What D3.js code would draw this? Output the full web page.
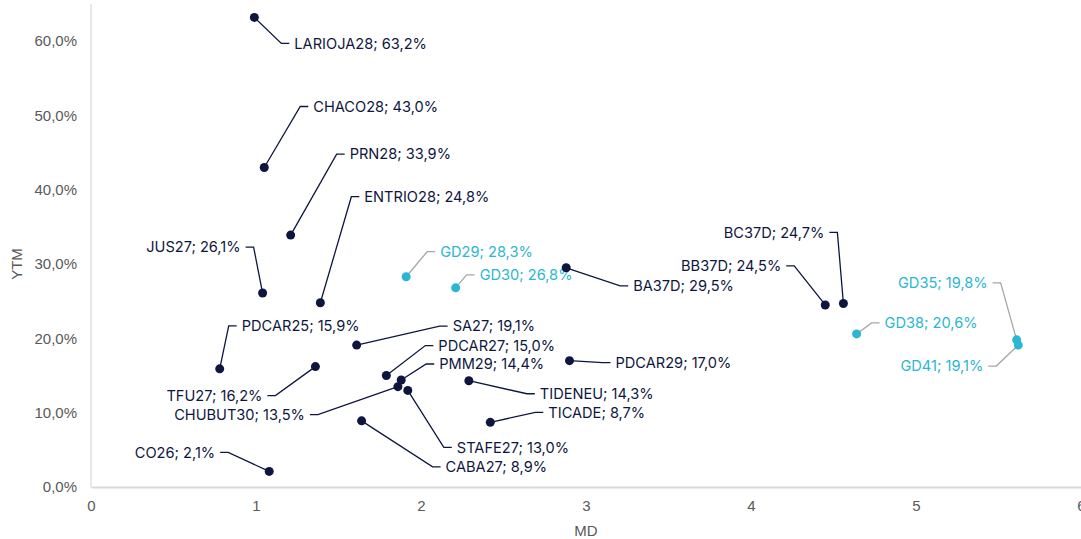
<!DOCTYPE html>
<html><head><meta charset="utf-8">
<script src="https://cdn.jsdelivr.net/npm/d3@7"></script>
<style>body{margin:0;background:#fff}svg{display:block}</style>
</head><body>
<svg id="c" width="1081" height="539"></svg>
<script>
const names = ["LARIOJA28","CHACO28","PRN28","ENTRIO28","JUS27","GD29","GD30","BA37D","BC37D","BB37D","GD38","GD35","GD41","PDCAR25","SA27","PDCAR27","PMM29","TFU27","CHUBUT30","STAFE27","CABA27","PDCAR29","TIDENEU","TICADE","CO26"];
const md  = [0.99,1.05,1.21,1.39,1.04,1.91,2.21,2.88,4.56,4.45,4.64,5.61,5.62,0.78,1.61,1.79,1.88,1.36,1.86,1.92,1.64,2.90,2.29,2.42,1.08];
const ytm = [63.2,43.0,33.9,24.8,26.1,28.3,26.8,29.5,24.7,24.5,20.6,19.8,19.1,15.9,19.1,15.0,14.4,16.2,13.5,13.0,8.9,17.0,14.3,8.7,2.1];
const isGD = [0,0,0,0,0,1,1,0,0,0,1,1,1,0,0,0,0,0,0,0,0,0,0,0,0];
const xTicks = [0,1,2,3,4,5,6];
const yTicks = [0,10,20,30,40,50,60];
// label layout: elbow offset from point (px) and side
const labelLayout = [
 [27,26,"r"],[36,-61,"r"],[46,-81,"r"],[31,-106,"r"],[-9,-46,"l"],[21,-25,"r"],[11,-13,"r"],[54,18,"r"],
 [-6,-71,"l"],[-31,-39,"l"],[15,-11,"r"],[-16,-57,"l"],[-22,21,"l"],[9,-43,"r"],[83,-19,"r"],[39,-30,"r"],
 [25,-16,"r"],[-40,29,"l"],[-80,28,"l"],[36,57,"r"],[71,46,"r"],[33,2,"r"],[58,13,"r"],[45,-10,"r"],[-41,-19,"l"]
];
const navy = "#0e1640", cyan = "#2bb6d3";
const svg = d3.select("#c");
const x = d3.scaleLinear().domain([0,6]).range([91,1081]);
const y = d3.scaleLinear().domain([0,65]).range([487,4]);
const tickFont = "'Liberation Sans Narrow','Liberation Sans',Arial,sans-serif";

// axes lines
svg.append("line").attr("x1",91).attr("x2",91).attr("y1",4).attr("y2",487).attr("stroke","#d0d0d0").attr("stroke-width",1);
const xa = svg.append("g").attr("transform","translate(0,487)")
  .call(d3.axisBottom(x).tickValues(xTicks).tickSize(0).tickPadding(13).tickFormat(d3.format("d")));
xa.select(".domain").attr("stroke","#d9d9d9").attr("stroke-width",2);
xa.selectAll("text").attr("font-family",tickFont).attr("font-size",15).attr("fill","#595959");
const ya = svg.append("g").attr("transform","translate(91,0)")
  .call(d3.axisLeft(y).tickValues(yTicks).tickSize(0).tickPadding(14).tickFormat(d=>d.toFixed(1).replace(".",",")+"%"));
ya.select(".domain").remove();
ya.selectAll("text").attr("font-family",tickFont).attr("font-size",15).attr("fill","#595959");
svg.append("text").attr("x",586).attr("y",536).attr("text-anchor","middle").attr("font-family",tickFont).attr("font-size",15).attr("fill","#595959").text("MD");
svg.append("text").attr("transform","translate(22,264) rotate(-90)").attr("text-anchor","middle").attr("font-family",tickFont).attr("font-size",15).attr("fill","#595959").text("YTM");

const data = names.map((n,i)=>({n, md:md[i], ytm:ytm[i], gd:isGD[i], lay:labelLayout[i]}));
const lf = "Inter,'Noto Sans',sans-serif";
data.forEach(d=>{
  const px = x(d.md), py = y(d.ytm);
  const [dx,dy,side] = d.lay;
  const ex = px+dx, ey = py+dy;
  const hx = side==="r" ? ex+8 : ex-8;
  const tx = side==="r" ? hx+5 : hx-5;
  svg.append("polyline").attr("points",`${px},${py} ${ex},${ey} ${hx},${ey}`)
    .attr("fill","none").attr("stroke", d.gd ? "#a6a6a6" : navy).attr("stroke-width",1.3);
  svg.append("text").attr("x",tx).attr("y",ey).attr("dy","0.36em")
    .attr("text-anchor", side==="r" ? "start" : "end")
    .attr("font-family",lf).attr("font-size",14.6).attr("fill", d.gd ? cyan : navy)
    .text(`${d.n}; ${d.ytm.toFixed(1).replace(".",",")}%`);
});
svg.selectAll("circle.pt").data(data).join("circle").attr("class","pt")
  .attr("cx",d=>x(d.md)).attr("cy",d=>y(d.ytm)).attr("r",4.5)
  .attr("fill",d=>d.gd?cyan:navy);
</script>
</body></html>
